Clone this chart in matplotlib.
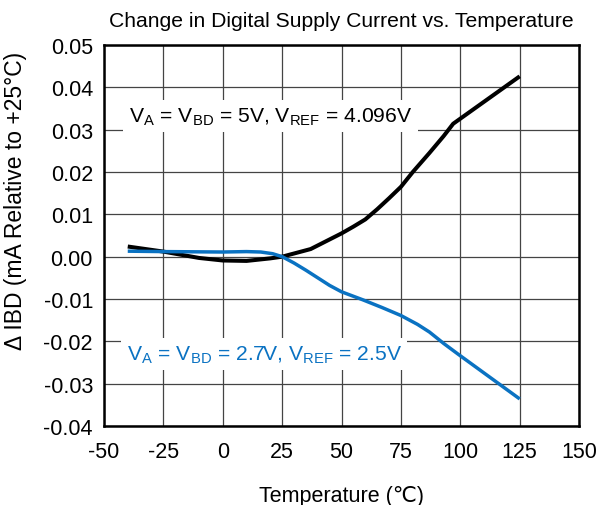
import matplotlib
matplotlib.use("Agg")
import matplotlib.pyplot as plt

plt.rcParams['font.family'] = ['Liberation Sans', 'DejaVu Sans']
plt.rcParams['mathtext.fontset'] = 'custom'
plt.rcParams['mathtext.rm'] = 'Liberation Sans'

# Data
temp_5v = [-40, -25, -10, 0, 10, 20, 25, 37, 50, 55, 60, 65, 70, 75, 80, 87, 93, 97, 101, 106, 115, 125]
ibd_5v = [0.0024, 0.0012, -0.0003, -0.0009, -0.0010, -0.0004, 0.0, 0.0018, 0.0055, 0.0071, 0.0088,
          0.0112, 0.0138, 0.0165, 0.0200, 0.0245, 0.0285, 0.0314, 0.0330, 0.0350, 0.0386, 0.0426]

temp_27v = [-40, -25, 0, 10, 16, 21, 25, 30, 35, 40, 45, 50, 59, 67, 75, 82, 87, 93, 99, 112, 125]
ibd_27v = [0.0013, 0.0012, 0.0011, 0.0012, 0.0011, 0.0007, 0.0, -0.0015, -0.0032, -0.0050,
           -0.0068, -0.0083, -0.0102, -0.0120, -0.0139, -0.0160, -0.0178, -0.0205, -0.0230,
           -0.0283, -0.0336]

xticks = [-50, -25, 0, 25, 50, 75, 100, 125, 150]
yticks = [0.05, 0.04, 0.03, 0.02, 0.01, 0.00, -0.01, -0.02, -0.03, -0.04]

blue = '#0a72c2'

fig = plt.figure(figsize=(5.97, 5.06), dpi=100)
ax = fig.add_axes([0.1742, 0.1561, 0.7958, 0.7530])

ax.plot(temp_5v, ibd_5v, color='black', lw=2.9, zorder=3, solid_capstyle='butt', solid_joinstyle='round')
ax.plot(temp_27v, ibd_27v, color=blue, lw=2.5, zorder=3, solid_capstyle='butt', solid_joinstyle='round')

ax.set_xlim(-50, 150)
ax.set_ylim(-0.04, 0.05)
ax.set_xticks(xticks)
ax.set_yticks(yticks)
ax.set_xticklabels([str(t) for t in xticks])
ax.set_yticklabels([f"{t:.2f}" for t in yticks])
ax.tick_params(axis='x', length=0, labelsize=15.5, pad=11, colors='black')
ax.tick_params(axis='y', length=0, labelsize=15.5, pad=8, colors='black')
ax.grid(True, color='#444444', lw=0.9, zorder=1)
for s in ax.spines.values():
    s.set_linewidth(1.8)
    s.set_color('black')

ax.set_xlabel('Temperature (\u2103)', fontsize=15.5, labelpad=16)
ax.set_ylabel('\u0394 IBD (mA Relative to +25\u00b0C)', fontsize=16.5)
ax.yaxis.set_label_coords(-0.163, 0.594)
ax.set_title('Change in Digital Supply Current vs. Temperature', fontsize=15.2, pad=14)

ax.text(-39.5, 0.0332, r'V$_\mathregular{A}$ = V$_\mathregular{BD}$ = 5V, V$_\mathregular{REF}$ = 4.096V',
        fontsize=15.2, color='black', va='center', ha='left', zorder=4,
        bbox=dict(facecolor='white', edgecolor='none', pad=4))
ax.text(-40.5, -0.0230, r'V$_\mathregular{A}$ = V$_\mathregular{BD}$ = 2.7V, V$_\mathregular{REF}$ = 2.5V',
        fontsize=15.2, color=blue, va='center', ha='left', zorder=4,
        bbox=dict(facecolor='white', edgecolor='none', pad=4))

fig.savefig('out.png', dpi=100)
